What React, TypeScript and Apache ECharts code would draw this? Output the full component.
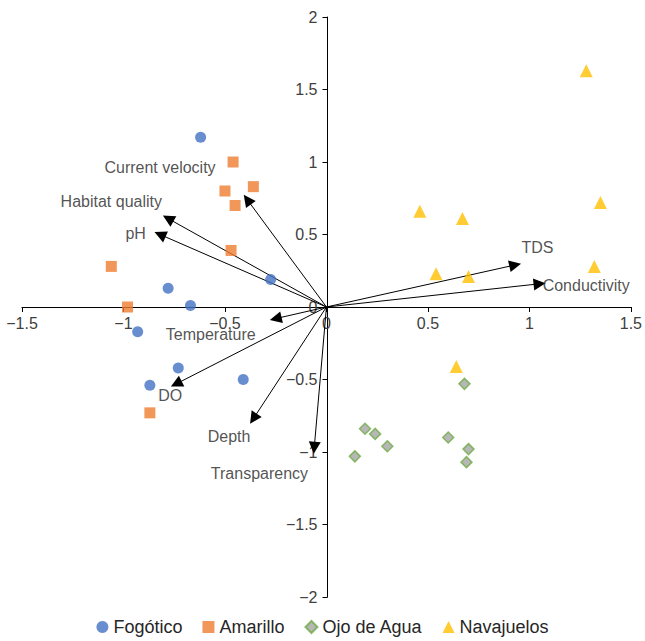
import React, { useEffect, useRef } from "react";
import * as echarts from "echarts";

const fogotico: [number, number][] = [
  [-0.62, 1.17], [-0.78, 0.13], [-0.67, 0.01], [-0.275, 0.19],
  [-0.93, -0.17], [-0.73, -0.42], [-0.87, -0.54], [-0.41, -0.5],
];
const amarillo: [number, number][] = [
  [-0.46, 1.0], [-0.5, 0.8], [-0.36, 0.83], [-0.45, 0.7],
  [-0.47, 0.39], [-1.06, 0.28], [-0.98, 0.0], [-0.87, -0.73],
];
const ojoDeAgua: [number, number][] = [
  [0.68, -0.53], [0.19, -0.84], [0.24, -0.875], [0.3, -0.96],
  [0.14, -1.03], [0.6, -0.9], [0.7, -0.98], [0.69, -1.07],
];
const navajuelos: [number, number][] = [
  [1.28, 1.63], [1.35, 0.72], [0.46, 0.66], [0.67, 0.61],
  [0.54, 0.23], [0.7, 0.21], [1.32, 0.28], [0.64, -0.41],
];

const variableNames = [
  "Current velocity", "Habitat quality", "pH", "Temperature", "DO",
  "Depth", "Transparency", "TDS", "Conductivity",
];
const vectorTips: [number, number][] = [
  [-0.39, 0.74], [-0.78, 0.61], [-0.82, 0.5], [-0.25, -0.08], [-0.74, -0.53],
  [-0.36, -0.77], [-0.06, -0.97], [0.93, 0.29], [1.05, 0.16],
];
const labelAnchors: [number, number][] = [
  [-0.82, 0.965], [-1.06, 0.73], [-0.94, 0.51], [-0.57, -0.19], [-0.77, -0.61],
  [-0.48, -0.89], [-0.33, -1.15], [1.04, 0.41], [1.28, 0.15],
];

const seriesNames = ["Fogótico", "Amarillo", "Ojo de Agua", "Navajuelos"];
const FONT = "Liberation Sans, Arial, sans-serif";

const GRID = { left: 22, right: 12, top: 17, bottom: 44 };
const W = 645;
const H = 641;

const fmt = (v: number) => (v < 0 ? "\u2212" + String(-v) : String(v));

export default function App() {
  const ref = useRef<HTMLDivElement>(null);
  useEffect(() => {
    if (!ref.current) return;
    const chart = echarts.init(ref.current, null, { renderer: "svg" });
    const gw = W - GRID.left - GRID.right;
    const gh = H - GRID.top - GRID.bottom;
    const xMin = -1.5, xMax = 1.5, yMin = -2, yMax = 2;
    const yAxisOffset = -((0 - xMin) / (xMax - xMin)) * gw;
    const xAxisOffset = -((0 - yMin) / (yMax - yMin)) * gh;
    chart.setOption({
      animation: false,
      textStyle: { fontFamily: FONT },
      grid: GRID,
      legend: {
        data: seriesNames,
        bottom: 0,
        left: "center",
        itemGap: 20,
        itemWidth: 12,
        itemHeight: 12,
        textStyle: { fontSize: 18, color: "#262626", fontFamily: FONT },
      },
      xAxis: {
        type: "value",
        min: xMin,
        max: xMax,
        interval: 0.5,
        position: "bottom",
        offset: xAxisOffset,
        axisLine: { onZero: false, lineStyle: { color: "#000", width: 1 } },
        axisTick: { show: true, length: 5, lineStyle: { color: "#000" } },
        axisLabel: { fontSize: 16, color: "#404040", fontFamily: FONT, margin: 8, formatter: fmt },
        splitLine: { show: false },
      },
      yAxis: {
        type: "value",
        min: yMin,
        max: yMax,
        interval: 0.5,
        position: "left",
        offset: yAxisOffset,
        axisLine: { onZero: false, lineStyle: { color: "#000", width: 1 } },
        axisTick: { show: true, length: 5, lineStyle: { color: "#000" } },
        axisLabel: { fontSize: 16, color: "#404040", fontFamily: FONT, margin: 10, formatter: fmt },
        splitLine: { show: false },
      },
      series: [
        {
          type: "lines",
          coordinateSystem: "cartesian2d",
          symbol: ["none", "triangle"],
          symbolSize: [0, 12],
          lineStyle: { color: "#000", width: 1, opacity: 1 },
          itemStyle: { color: "#000" },
          z: 3,
          data: vectorTips.map((t) => ({ coords: [[0, 0], t] })),
        },
        {
          name: seriesNames[0],
          type: "scatter",
          symbol: "circle",
          symbolSize: 11,
          itemStyle: { color: "#4472C4" },
          data: fogotico,
          z: 4,
        },
        {
          name: seriesNames[1],
          type: "scatter",
          symbol: "rect",
          symbolSize: 11,
          itemStyle: { color: "#ED7D31" },
          data: amarillo,
          z: 4,
        },
        {
          name: seriesNames[2],
          type: "scatter",
          symbol: "diamond",
          symbolSize: 11,
          itemStyle: { color: "#A5A5A5", borderColor: "#70AD47", borderWidth: 1.5 },
          data: ojoDeAgua,
          z: 4,
        },
        {
          name: seriesNames[3],
          type: "scatter",
          symbol: "triangle",
          symbolSize: 13,
          itemStyle: { color: "#FFC000" },
          data: navajuelos,
          z: 4,
        },
        {
          type: "scatter",
          symbolSize: 0,
          silent: true,
          z: 5,
          data: labelAnchors.map((p, i) => ({ value: p, name: variableNames[i] })),
          label: {
            show: true,
            position: "inside",
            formatter: (p: any) => p.name,
            fontSize: 16,
            color: "#262626",
            fontFamily: FONT,
          },
        },
      ],
    });
    return () => chart.dispose();
  }, []);
  return (
    <div
      ref={ref}
      style={{ position: "fixed", left: 0, top: 0, width: W, height: H, background: "#fff" }}
    />
  );
}
